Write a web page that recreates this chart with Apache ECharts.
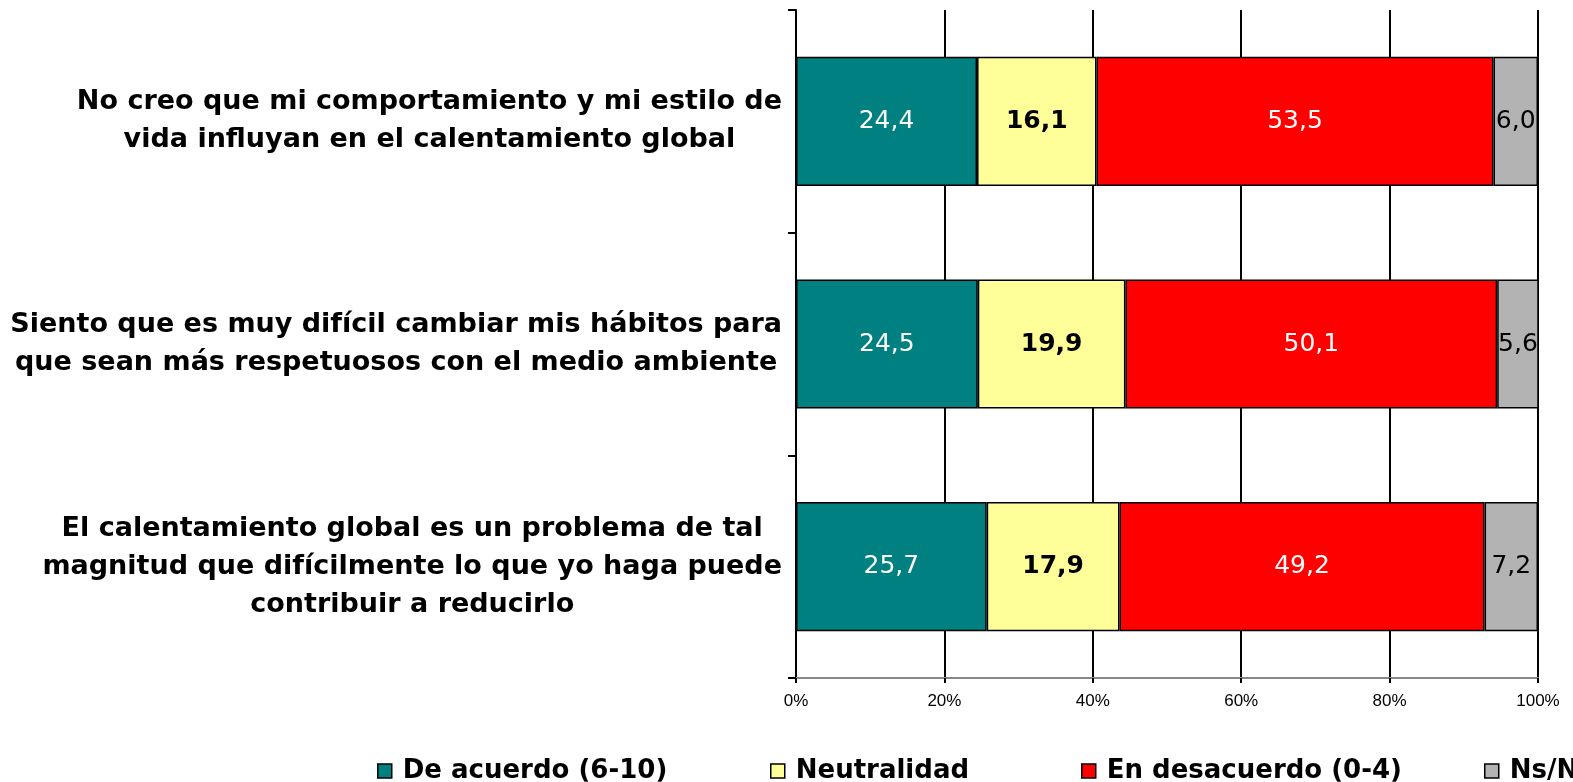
<!DOCTYPE html>
<html>
<head>
<meta charset="utf-8">
<script src="https://cdn.jsdelivr.net/npm/echarts@6/dist/echarts.min.js"></script>
<style>
  html, body { margin: 0; padding: 0; background: #ffffff; }
  #chart { width: 1573px; height: 782px; }
</style>
</head>
<body>
<div id="chart"></div>
<script>
// Statements (top to bottom), each split into the lines it is printed on
const categories = [
  ['No creo que mi comportamiento y mi estilo de', 'vida influyan en el calentamiento global'],
  ['Siento que es muy difícil cambiar mis hábitos para', 'que sean más respetuosos con el medio ambiente'],
  ['El calentamiento global es un problema de tal', 'magnitud que difícilmente lo que yo haga puede', 'contribuir a reducirlo']
];

// Percentages per answer group
const acuerdo     = [24.4, 24.5, 25.7];
const neutralidad = [16.1, 19.9, 17.9];
const desacuerdo  = [53.5, 50.1, 49.2];
const nsnc        = [6.0, 5.6, 7.2];

const seriesNames = ['De acuerdo (6-10)', 'Neutralidad', 'En desacuerdo (0-4)', 'Ns/Nc'];
const xTicks = [0, 20, 40, 60, 80, 100];

const colors = ['#008080', '#ffff99', '#ff0000', '#b3b3b3'];
const labelColors = ['#ffffff', '#000000', '#ffffff', '#000000'];
const labelWeights = ['normal', 'bold', 'normal', 'normal'];
const FONT = '"DejaVu Sans", Verdana, sans-serif';

const catKeys = categories.map((_, i) => 'c' + i);
const catLabelMap = {};
categories.forEach((lines, i) => { catLabelMap[catKeys[i]] = lines; });

const fmt = v => v.toFixed(1).replace('.', ',');

const seriesData = [acuerdo, neutralidad, desacuerdo, nsnc];
const series = seriesData.map((vals, i) => ({
  name: seriesNames[i],
  type: 'bar',
  stack: 'total',
  barWidth: '58%',
  data: vals,
  itemStyle: { color: colors[i], borderColor: '#000000', borderWidth: 1.5 },
  label: {
    show: true,
    position: 'inside',
    formatter: p => fmt(p.value),
    color: labelColors[i],
    fontFamily: FONT,
    fontSize: 25,
    fontWeight: labelWeights[i]
  },
  emphasis: { disabled: true }
}));

// One legend block per entry so each sits at its own horizontal spot
const legendLeft = [372, 765, 1076, 1479];
const legends = seriesNames.map((n, i) => ({
  data: [n],
  left: legendLeft[i],
  top: 753,
  orient: 'horizontal',
  itemWidth: 14,
  itemHeight: 14,
  icon: 'rect',
  itemStyle: { borderColor: '#000000', borderWidth: 1.5 },
  textStyle: { fontFamily: FONT, fontSize: 26, fontWeight: 'bold', color: '#000000', padding: [0, 0, 0, 6] },
  selectedMode: false
}));

const chart = echarts.init(document.getElementById('chart'), null, { renderer: 'canvas' });
chart.setOption({
  animation: false,
  backgroundColor: '#ffffff',
  legend: legends,
  grid: { left: 796, right: 35, top: 10, bottom: 104, containLabel: false },
  xAxis: {
    type: 'value',
    min: xTicks[0],
    max: xTicks[xTicks.length - 1],
    interval: 20,
    axisLine: { show: true, lineStyle: { color: '#888888', width: 2 } },
    axisTick: { show: true, length: 5, lineStyle: { color: '#000000', width: 2 } },
    splitLine: { show: true, lineStyle: { color: '#000000', width: 2 } },
    axisLabel: {
      formatter: '{value}%',
      margin: 15,
      fontFamily: '"Liberation Sans Narrow", "Liberation Sans", Arial, sans-serif',
      fontSize: 17,
      color: '#000000'
    }
  },
  yAxis: {
    type: 'category',
    inverse: true,
    data: catKeys,
    axisLine: { show: true, lineStyle: { color: '#000000', width: 2 } },
    axisTick: { show: true, inside: false, length: 8, lineStyle: { color: '#000000', width: 2 } },
    splitLine: { show: false },
    axisLabel: {
      margin: 14,
      align: 'right',
      formatter: key => catLabelMap[key].map(l => '{c|' + l + '}').join('\n'),
      rich: {
        c: {
          align: 'center',
          fontFamily: FONT,
          fontSize: 27,
          fontWeight: 'bold',
          color: '#000000',
          lineHeight: 38
        }
      }
    }
  },
  series: series
});
</script>
</body>
</html>
